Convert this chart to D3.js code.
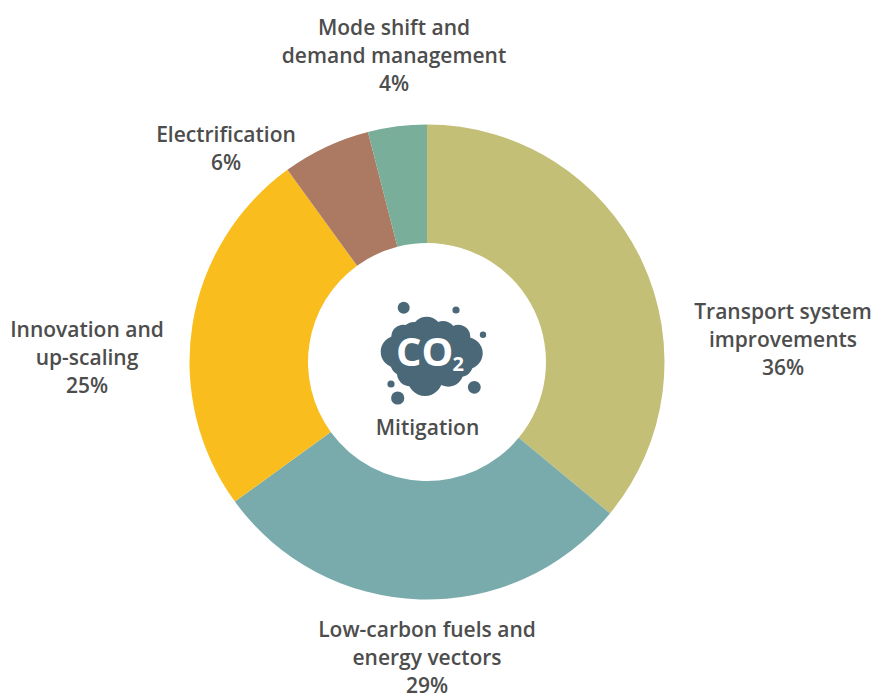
<!DOCTYPE html>
<html>
<head>
<meta charset="utf-8">
<script src="https://cdn.jsdelivr.net/npm/d3@7"></script>
<style>
html,body{margin:0;padding:0;background:#fff;}
svg{display:block;}
text{font-family:"Open Sans",sans-serif;}
</style>
</head>
<body>
<svg id="chart" width="874" height="693"></svg>
<script>
const categories = ["Transport system improvements","Low-carbon fuels and energy vectors","Innovation and up-scaling","Electrification","Mode shift and demand management"];
const values = [36, 29, 25, 6, 4];
const colours = ["#c4bf77","#79abad","#fabd1e","#ac7a63","#79ae9a"];
const labelLines = [
  ["Transport system","improvements"],
  ["Low-carbon fuels and","energy vectors"],
  ["Innovation and","up-scaling"],
  ["Electrification"],
  ["Mode shift and","demand management"]
];
const labelAnchors = [[783,311],[427,629],[87,329],[226,134],[394,27]];

// Cloud icon parts: [x, y, r] lobes plus the loose particles around it
const cloudLobes = [[396.7,351.7,16],[403.3,336.7,12],[414,335,13],[426.7,331.7,15],[443,334,13],[458.3,336.7,12],[466.7,353.3,16],[460,364,13],[448.3,371.7,15],[425,378.5,17.5],[410,373.3,13],[404,362,14],[431,355,28],[415,355,20],[447,355,20]];
const particles = [[403.7,307.7,6],[456,310,3.6],[483,334.7,3.2],[391,384,3.6],[397.7,398,6.6],[474.3,387.3,6.4]];

const svg = d3.select("#chart");
const cx = 427, cy = 362, outer = 237.5, inner = 119;

const pie = d3.pie().value(d => d).sort(null);
const arc = d3.arc().innerRadius(inner).outerRadius(outer);

svg.append("g").attr("transform", `translate(${cx},${cy})`)
  .selectAll("path").data(pie(values)).join("path")
  .attr("d", arc)
  .attr("fill", (d, i) => colours[i]);

const labels = svg.append("g").attr("fill", "#4d4d4d")
  .attr("font-size", 21).attr("font-weight", 600).attr("text-anchor", "middle");
categories.forEach((c, i) => {
  const t = labels.append("text").attr("x", labelAnchors[i][0]).attr("y", labelAnchors[i][1])
    .attr("dominant-baseline", "central");
  [...labelLines[i], values[i] + "%"].forEach((line, j) => {
    t.append("tspan").attr("x", labelAnchors[i][0]).attr("dy", j ? 28 : 0).text(line);
  });
});

// Centre icon
const icon = svg.append("g").attr("fill", "#4a6877");
icon.selectAll("circle").data([...cloudLobes, ...particles]).join("circle")
  .attr("cx", d => d[0]).attr("cy", d => d[1]).attr("r", d => d[2]);

svg.append("text").attr("x", 396).attr("y", 366).attr("fill", "#fff")
  .attr("font-size", 40).attr("font-weight", 700).text("CO");
svg.append("text").attr("x", 452.5).attr("y", 371).attr("fill", "#fff")
  .attr("font-size", 20).attr("font-weight", 700).text("2");
svg.append("text").attr("x", 427.5).attr("y", 427).attr("fill", "#4d4d4d")
  .attr("font-size", 21).attr("font-weight", 600).attr("text-anchor", "middle")
  .attr("dominant-baseline", "central").text("Mitigation");
</script>
</body>
</html>
